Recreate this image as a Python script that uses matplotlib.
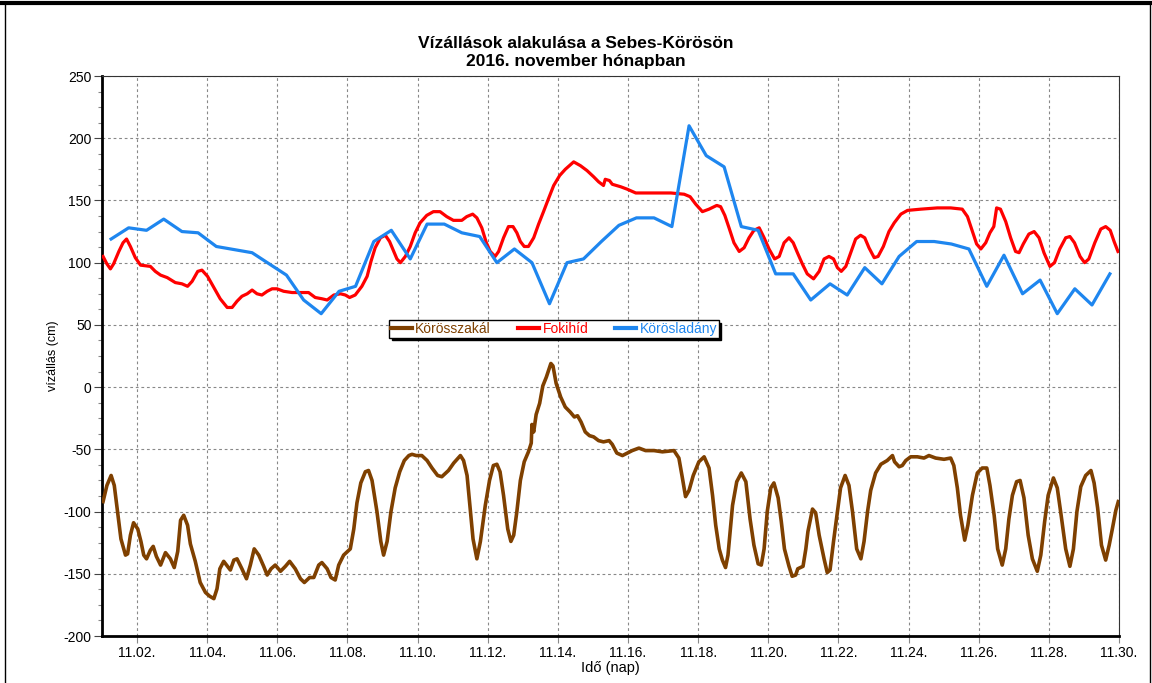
import matplotlib
matplotlib.use("Agg")
import matplotlib.pyplot as plt
from matplotlib.lines import Line2D
from matplotlib.ticker import MultipleLocator

plt.rcParams['font.family'] = ['Liberation Sans', 'DejaVu Sans']
plt.rcParams['axes.unicode_minus'] = False

# ---------------- data (day of November, water level in cm) ----------------
ladany_day = [1.26, 1.76, 2.27, 2.76, 3.28, 3.74, 4.26, 5.28, 6.26, 6.75, 7.25, 7.76,
              8.23, 8.75, 9.25, 9.79, 10.27, 10.76, 11.26, 11.77, 12.26, 12.76, 13.26,
              13.76, 14.26, 14.73, 15.24, 15.74, 16.24, 16.74, 17.25, 17.74, 18.23,
              18.74, 19.23, 19.71, 20.21, 20.71, 21.21, 21.76, 22.25, 22.75, 23.24,
              23.73, 24.23, 24.73, 25.22, 25.72, 26.23, 26.72, 27.25, 27.75, 28.24,
              28.74, 29.23, 29.74]
ladany_cm = [119, 128, 126, 135, 125, 124, 113, 108, 90, 70, 59, 77,
             81, 117, 126, 103, 131, 131, 124, 121, 100, 111, 100,
             67, 100, 103, 117, 130, 136, 136, 129, 210, 186,
             177, 129, 126, 91, 91, 70, 83, 74, 96, 83,
             105, 117, 117, 115, 111, 81, 106, 75, 86, 59,
             79, 66, 91]

foki_day = [1.03, 1.14, 1.24, 1.33, 1.48, 1.60, 1.70, 1.81, 1.95, 2.10, 2.38, 2.52,
            2.67, 2.86, 3.09, 3.28, 3.44, 3.57, 3.73, 3.85, 4.01, 4.19, 4.37, 4.57,
            4.71, 4.85, 4.99, 5.14, 5.28, 5.42, 5.56, 5.71, 5.85, 5.99, 6.18, 6.42,
            6.70, 6.89, 7.08, 7.27, 7.42, 7.61, 7.80, 7.94, 8.06, 8.22, 8.41, 8.56,
            8.67, 8.79, 8.94, 9.08, 9.20, 9.32, 9.41, 9.51, 9.65, 9.79, 9.93, 10.07,
            10.26, 10.45, 10.64, 10.83, 11.02, 11.26, 11.40, 11.57, 11.69, 11.83,
            11.96, 12.07, 12.21, 12.31, 12.45, 12.59, 12.72, 12.83, 12.93, 13.04,
            13.16, 13.31, 13.45, 13.59, 13.74, 13.88, 14.05, 14.21, 14.45, 14.64,
            14.83, 15.02, 15.16, 15.30, 15.35, 15.47, 15.55, 15.79, 15.98, 16.22,
            16.74, 17.22, 17.60, 17.77, 17.93, 18.12, 18.31, 18.53, 18.64, 18.76,
            18.88, 19.02, 19.17, 19.31, 19.45, 19.59, 19.74, 19.88, 20.02, 20.18,
            20.31, 20.45, 20.59, 20.71, 20.83, 20.97, 21.11, 21.29, 21.45, 21.59,
            21.73, 21.86, 21.97, 22.08, 22.21, 22.35, 22.49, 22.63, 22.75, 22.87,
            23.02, 23.13, 23.28, 23.44, 23.59, 23.78, 23.97, 24.35, 24.82, 25.20,
            25.53, 25.68, 25.82, 25.94, 26.06, 26.20, 26.32, 26.43, 26.51, 26.62,
            26.77, 26.91, 27.05, 27.15, 27.27, 27.43, 27.58, 27.72, 27.86, 28.03,
            28.16, 28.31, 28.48, 28.60, 28.73, 28.89, 29.02, 29.14, 29.31, 29.48,
            29.62, 29.75, 29.86, 29.97]
foki_cm = [105, 99, 95, 99, 109, 116, 119, 113, 104, 98, 97, 93,
           90, 88, 84, 83, 81, 85, 93, 94, 89, 80, 71, 64,
           64, 69, 73, 75, 78, 75, 74, 77, 79, 79, 77, 76,
           76, 76, 72, 71, 70, 74, 75, 74, 72, 74, 81, 89,
           101, 112, 120, 122, 117, 109, 103, 100, 105, 113, 124, 132,
           138, 141, 141, 137, 134, 134, 137, 139, 136, 128,
           116, 109, 105, 109, 120, 129, 129, 124, 117, 113,
           113, 120, 131, 141, 152, 162, 170, 175, 181, 178,
           174, 169, 165, 162, 167, 166, 163, 161, 159, 156,
           156, 156, 155, 153, 147, 141, 143, 146, 145, 138,
           128, 116, 109, 112, 120, 126, 128, 120, 111, 103,
           105, 116, 120, 116, 108, 99, 91, 87, 93, 103,
           105, 103, 96, 93, 97, 108, 119, 122, 120, 112,
           104, 105, 113, 125, 132, 139, 142, 143, 144, 144,
           143, 137, 125, 115, 111, 116, 124, 129, 144, 143,
           133, 120, 109, 108, 115, 123, 125, 120, 108, 97,
           100, 111, 120, 121, 116, 105, 100, 103, 116, 127,
           129, 126, 117, 109]

szakal_day = [1.03, 1.14, 1.26, 1.35, 1.43, 1.54, 1.67, 1.73, 1.81, 1.90, 2.02, 2.11,
              2.19, 2.27, 2.38, 2.46, 2.55, 2.67, 2.81, 2.95, 3.06, 3.16, 3.24, 3.33,
              3.44, 3.52, 3.66, 3.80, 3.95, 4.07, 4.19, 4.28, 4.36, 4.47, 4.58, 4.66,
              4.76, 4.85, 4.99, 5.12, 5.23, 5.34, 5.47, 5.61, 5.71, 5.82, 5.94, 6.09,
              6.23, 6.35, 6.51, 6.66, 6.77, 6.92, 7.04, 7.18, 7.27, 7.42, 7.53, 7.65,
              7.75, 7.89, 8.08, 8.18, 8.27, 8.38, 8.51, 8.60, 8.70, 8.84, 8.95, 9.03,
              9.13, 9.24, 9.36, 9.49, 9.62, 9.75, 9.84, 9.96, 10.12, 10.27, 10.41,
              10.57, 10.69, 10.88, 11.03, 11.22, 11.31, 11.41, 11.48, 11.58, 11.69,
              11.79, 11.93, 12.05, 12.16, 12.26, 12.35, 12.45, 12.57, 12.66, 12.74,
              12.83, 12.93, 13.04, 13.16, 13.24, 13.26, 13.31, 13.38, 13.48, 13.57,
              13.67, 13.73, 13.80, 13.86, 13.95, 14.08, 14.21, 14.35, 14.47, 14.56,
              14.66, 14.78, 14.90, 15.02, 15.16, 15.30, 15.46, 15.55, 15.68, 15.84,
              15.98, 16.12, 16.31, 16.50, 16.74, 16.98, 17.31, 17.45, 17.55, 17.64,
              17.74, 17.86, 18.02, 18.17, 18.31, 18.41, 18.50, 18.60, 18.69, 18.78,
              18.85, 18.98, 19.10, 19.23, 19.36, 19.48, 19.59, 19.71, 19.80, 19.88,
              19.97, 20.07, 20.16, 20.28, 20.37, 20.46, 20.59, 20.68, 20.78, 20.84,
              20.99, 21.07, 21.13, 21.26, 21.35, 21.45, 21.59, 21.68, 21.76, 21.86,
              21.97, 22.06, 22.19, 22.30, 22.40, 22.52, 22.64, 22.73, 22.83, 22.92,
              23.06, 23.21, 23.39, 23.54, 23.60, 23.73, 23.82, 23.92, 24.06, 24.25,
              24.44, 24.58, 24.77, 25.01, 25.20, 25.29, 25.39, 25.48, 25.60, 25.69,
              25.82, 25.96, 26.10, 26.23, 26.32, 26.44, 26.54, 26.67, 26.77, 26.86,
              26.96, 27.08, 27.18, 27.29, 27.41, 27.53, 27.67, 27.77, 27.88, 27.98,
              28.13, 28.24, 28.35, 28.48, 28.60, 28.70, 28.80, 28.91, 29.05, 29.20,
              29.29, 29.39, 29.50, 29.62, 29.72, 29.81, 29.91, 29.98]
szakal_cm = [-92, -79, -71, -79, -97, -122, -135, -134, -119, -109, -114, -124,
             -135, -138, -131, -128, -136, -143, -133, -138, -145, -132, -107, -103,
             -111, -126, -140, -157, -165, -168, -170, -162, -146, -140, -144, -147,
             -139, -138, -146, -154, -143, -130, -135, -144, -151, -146, -143, -148,
             -144, -140, -146, -154, -157, -153, -153, -143, -141, -146, -153, -155,
             -143, -135, -130, -114, -93, -77, -68, -67, -75, -100, -124, -135,
             -124, -100, -81, -68, -59, -55, -54, -55, -55, -59, -65,
             -71, -72, -67, -61, -55, -59, -71, -92, -122, -138,
             -124, -95, -75, -63, -62, -68, -87, -114, -124, -119,
             -100, -75, -60, -52, -45, -30, -36, -22, -13, 1,
             8, 13, 19, 17, 3, -8, -16, -20, -24, -23,
             -28, -36, -39, -40, -43, -44, -43, -46, -53, -55,
             -53, -51, -49, -51, -51, -52, -51, -57, -73, -88,
             -83, -71, -60, -56, -65, -87, -111, -130, -139, -145,
             -135, -95, -76, -69, -76, -106, -127, -142, -143, -130,
             -100, -81, -77, -89, -108, -130, -144, -152, -151, -146,
             -144, -130, -116, -98, -101, -119, -138, -149, -147, -124,
             -100, -81, -71, -79, -100, -130, -138, -124, -100, -83,
             -69, -62, -59, -55, -60, -64, -63, -59, -56, -56,
             -57, -55, -57, -58, -57, -63, -81, -103, -123, -111,
             -87, -69, -65, -65, -79, -103, -130, -143, -130, -106,
             -87, -76, -75, -89, -119, -138, -148, -135, -108, -87,
             -73, -81, -103, -130, -144, -130, -100, -80, -71, -67,
             -77, -97, -127, -139, -127, -114, -99, -92]

series_names = ["Körösszakál", "Fokihíd", "Körösladány"]
series_colors = ["#7f4000", "#ff0000", "#1e86ef"]

tick_days = list(range(2, 31, 2))
tick_labels = ["11.%02d." % d for d in tick_days]

# ---------------- figure ----------------
fig = plt.figure(figsize=(11.52, 6.83), dpi=100)
ax = fig.add_axes([102/1152, 1 - 636/683, (1119 - 102)/1152, (636 - 76)/683])

ax.plot(szakal_day, szakal_cm, color=series_colors[0], lw=2.6, label=series_names[0],
        solid_joinstyle='round', zorder=3)
ax.plot(foki_day, foki_cm, color=series_colors[1], lw=2.3, label=series_names[1],
        solid_joinstyle='round', zorder=3)
ax.plot(ladany_day, ladany_cm, color=series_colors[2], lw=2.3, label=series_names[2],
        solid_joinstyle='round', zorder=3)

ax.set_xlim(1, 30)
ax.set_ylim(-200, 250)
ax.set_xticks(tick_days)
ax.set_xticklabels(tick_labels, fontsize=10)
ax.yaxis.set_major_locator(MultipleLocator(50))
ax.yaxis.set_minor_locator(MultipleLocator(12.5))
ax.tick_params(axis='y', which='major', labelsize=10, length=6, width=0.8,
               color='#444444', pad=1.5)
ax.tick_params(axis='y', which='minor', length=3, width=0.8, color='#888888')
ax.tick_params(axis='x', which='major', length=5, width=0.8, color='#888888', pad=2)

ax.grid(True, which='major', color='#888888', linestyle=(0, (2.5, 2.5)), lw=0.8)
ax.set_axisbelow(True)

for s in ['left', 'bottom']:
    ax.spines[s].set_linewidth(2.0)
    ax.spines[s].set_color('black')
for s in ['top', 'right']:
    ax.spines[s].set_linewidth(0.8)
    ax.spines[s].set_color('#333333')

ax.set_ylabel("vízállás (cm)", fontsize=9, labelpad=3)
ax.set_xlabel("Idő (nap)", fontsize=10.5, labelpad=1)

fig.text(576/1152, 1 - 44/683, "Vízállások alakulása a Sebes-Körösön",
         ha='center', va='center', fontsize=12.5, fontweight='bold')
fig.text(576/1152, 1 - 61.5/683, "2016. november hónapban",
         ha='center', va='center', fontsize=12.5, fontweight='bold')

leg = ax.legend(loc='center', bbox_to_anchor=(554/1152, 1 - 329/683),
                bbox_transform=fig.transFigure, ncol=3, fontsize=10,
                frameon=True, fancybox=False, edgecolor='black', framealpha=1,
                handlelength=1.5, handletextpad=0.25, columnspacing=1.95,
                borderpad=0.12, borderaxespad=0,
                shadow={'color': 'black', 'alpha': 1.0})
leg.get_frame().set_linewidth(1.0)
for txt, c in zip(leg.get_texts(), series_colors):
    txt.set_color(c)
for h in leg.legend_handles:
    h.set_linewidth(3)

# outer frame of the picture
fig.add_artist(Line2D([0, 1150/1152], [1 - 3/683, 1 - 3/683], transform=fig.transFigure,
                      color='black', lw=3))
fig.add_artist(Line2D([5/1152, 5/1152], [0, 1 - 3/683], transform=fig.transFigure,
                      color='black', lw=1))
fig.add_artist(Line2D([1150/1152, 1150/1152], [0, 1 - 3/683], transform=fig.transFigure,
                      color='black', lw=1))

fig.savefig("out.png", dpi=100)
